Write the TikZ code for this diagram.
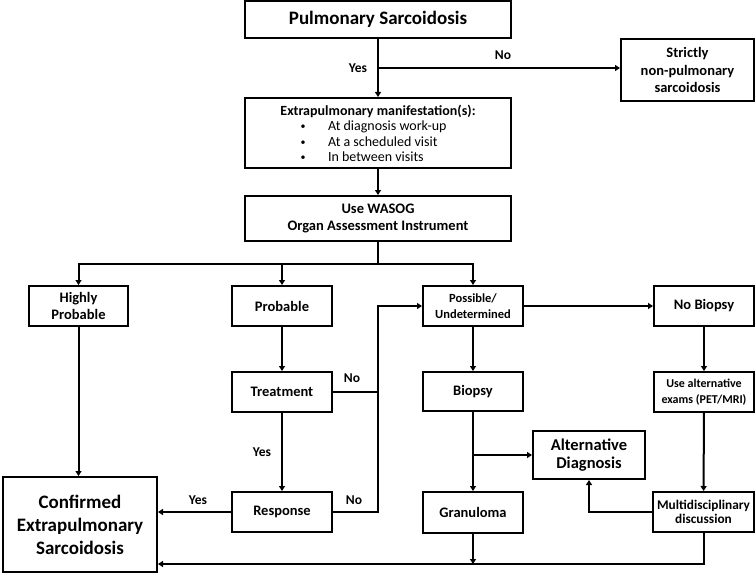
\documentclass[tikz,border=0pt]{standalone}
\usepackage{fontspec}
\setmainfont{Carlito}
\usetikzlibrary{arrows.meta}

\begin{document}
\begin{tikzpicture}[x=1pt, y=-1pt, line width=2pt,
  box/.style={draw, line width=2pt, inner sep=0pt, align=center, minimum width=100pt, minimum height=40pt, font=\fontsize{14.5}{17.5}\selectfont\bfseries},
  arr/.style={-{Triangle[length=5pt,width=6pt]}},
  lbl/.style={font=\fontsize{13.5}{16}\selectfont\bfseries, inner sep=0pt},
  item/.style={font=\fontsize{14}{16}\selectfont, inner sep=0pt, anchor=west, text height=10pt, text depth=3pt},
  dot/.style={font=\fontsize{10}{12}\selectfont, inner sep=0pt}]
\useasboundingbox[fill=white] (0,0) rectangle (755,575);
\node[box, minimum width=266pt, minimum height=37pt, font=\fontsize{19}{23}\selectfont\bfseries] (pulm) at (378,19.5){Pulmonary Sarcoidosis};
\node[box, minimum width=133pt, minimum height=62pt] (strict) at (687.5,70){Strictly\\non-pulmonary\\sarcoidosis};
\node[box, minimum width=266pt, minimum height=70pt] (extra) at (378,133){};
\node[item, anchor=center, font=\fontsize{14}{16}\selectfont\bfseries] (extit) at (378,112){Extrapulmonary manifestation(s):};
\node[dot] (dot1) at (303,127){•};
\node[item] (it1) at (327,127){At diagnosis work-up};
\node[dot] (dot2) at (303,143){•};
\node[item] (it2) at (327,143){At a scheduled visit};
\node[dot] (dot3) at (303,158){•};
\node[item] (it3) at (327,158){In between visits};
\node[box, minimum width=266pt, minimum height=45pt] (wasog) at (378,218.5){Use WASOG\\Organ Assessment Instrument};
\node[box, minimum width=99pt] (hp) at (78.5,306){Highly\\Probable};
\node[box] (prob) at (282,306){Probable};
\node[box, font=\fontsize{12.5}{16}\selectfont\bfseries] (poss) at (473,306){Possible/\\Undetermined};
\node[box] (nob) at (704,306){No Biopsy};
\node[box] (treat) at (282,392){Treatment};
\node[box, minimum height=39pt] (biopsy) at (473,391.5){Biopsy};
\node[box, font=\fontsize{12}{16}\selectfont\bfseries] (usealt) at (704,392){Use alternative\\exams (PET/MRI)};
\node[box, minimum width=112pt, minimum height=48pt, font=\fontsize{16.5}{18.5}\selectfont\bfseries] (altd) at (589,455){Alternative\\Diagnosis};
\node[box] (resp) at (282,512){Response};
\node[box, minimum height=41pt] (gran) at (473,512.5){Granuloma};
\node[box, minimum width=101pt, font=\fontsize{13.3}{14.5}\selectfont\bfseries] (multi) at (703.5,512){Multidisciplinary\\discussion};
\node[box, minimum width=154pt, minimum height=95pt, font=\fontsize{19}{23}\selectfont\bfseries] (conf) at (80,524.5){Confirmed\\Extrapulmonary\\Sarcoidosis};
\coordinate (yesno) at (378,68);
\coordinate (split) at (378,264);
\coordinate (loop) at (378,306);
\coordinate (fork) at (473,455);
\coordinate (botR) at (703.5,564);
\draw[arr] (pulm) -- (extra);
\draw[arr] (yesno) -- (yesno -| strict.west);
\node[lbl] (yes1) at (358,68){Yes};
\node[lbl] (no1) at (503,55){No};
\draw[arr] (extra) -- (wasog);
\draw (wasog) -- (split);
\draw[arr] (split) -| (hp.north);
\draw[arr] (split) -| (prob.north);
\draw[arr] (split) -| (poss.north);
\draw[arr] (hp.south) -- (hp.south |- conf.north);
\draw[arr] (prob) -- (treat);
\draw[arr] (treat) -- (resp);
\node[lbl] (yes2) at (262,452){Yes};
\draw (treat.east) -- (treat.east -| loop);
\draw[arr] (resp.east) -| (loop) -- (poss.west);
\node[lbl] (no2) at (352,378){No};
\node[lbl] (no3) at (354,500){No};
\draw[arr] (resp.west) -- (resp.west -| conf.east);
\node[lbl] (yes3) at (198,500){Yes};
\draw[arr] (poss) -- (nob);
\draw[arr] (poss) -- (biopsy);
\draw[arr] (biopsy) -- (gran);
\draw[arr] (fork) -- (fork -| altd.west);
\draw[arr] (nob) -- (usealt);
\draw[arr] (usealt) -- (multi);
\draw[arr] (multi.west) -| (altd.south);
\draw[arr] (multi.south) -- (botR) -- (botR -| conf.east);
\draw[arr] (gran.south) -- (gran.south |- botR);
\end{tikzpicture}
\end{document}
